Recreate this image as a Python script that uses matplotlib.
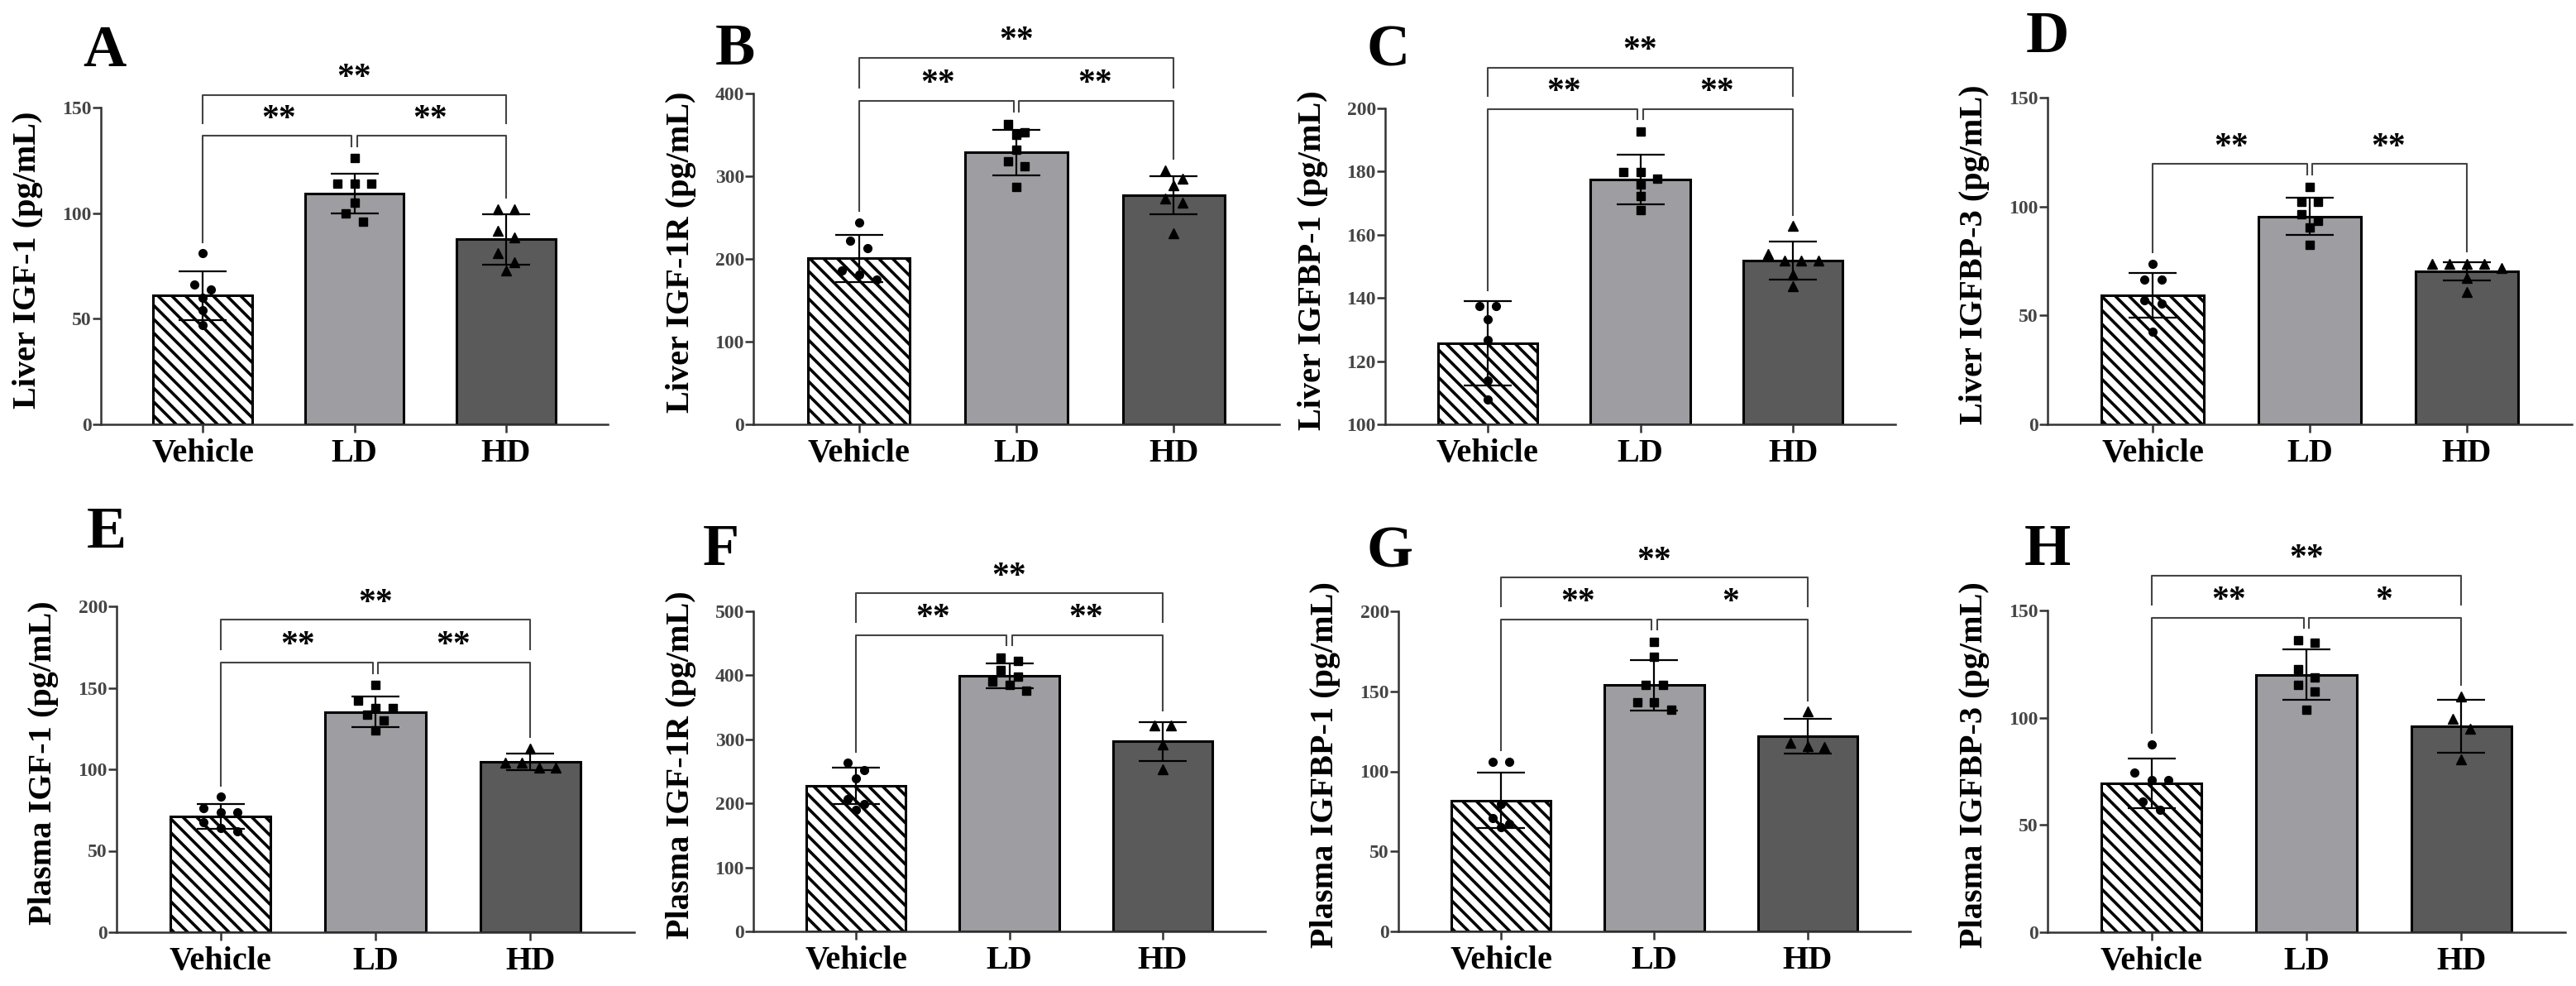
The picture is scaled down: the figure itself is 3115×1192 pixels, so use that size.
import numpy as np
import matplotlib
matplotlib.use("Agg")
import matplotlib.pyplot as plt

plt.rcParams['font.family'] = ['Liberation Serif', 'DejaVu Serif']
plt.rcParams['hatch.linewidth'] = 2.6
plt.rcParams['hatch.color'] = 'black'

groups = ['Vehicle', 'LD', 'HD']
letters = ['A', 'B', 'C', 'D', 'E', 'F', 'G', 'H']
ylabels = ['Liver IGF-1 (pg/mL)', 'Liver IGF-1R (pg/mL)', 'Liver IGFBP-1 (pg/mL)',
           'Liver IGFBP-3 (pg/mL)', 'Plasma IGF-1 (pg/mL)', 'Plasma IGF-1R (pg/mL)',
           'Plasma IGFBP-1 (pg/mL)', 'Plasma IGFBP-3 (pg/mL)']
ylims = [(0, 150), (0, 400), (100, 200), (0, 150), (0, 200), (0, 500), (0, 200), (0, 150)]
ysteps = [50, 100, 20, 50, 50, 100, 50, 50]

# mean and SD per panel (Vehicle, LD, HD)
means = [[61, 109.3, 87.6], [200.8, 328.6, 277], [125.6, 177.5, 151.8], [59.2, 95.4, 70.1],
         [71, 135.1, 104.6], [227.4, 399.2, 297], [81.8, 153.8, 122.1], [69.3, 120, 95.9]]
sds = [[11.6, 9.5, 12], [28.5, 27.3, 23], [13.4, 7.8, 6.1], [10.3, 8.5, 4.2],
       [7.7, 9.4, 5.1], [28, 19, 30.4], [17.2, 15.8, 10.9], [11.6, 11.7, 12.3]]

pts_vehicle = [[81, 66, 64, 60, 54, 47],
               [243.5, 221.8, 213, 186, 180.5, 175],
               [137.5, 137.5, 133.3, 126.8, 113.8, 107.8],
               [73.8, 66.5, 66.5, 57, 55.6, 42.5],
               [83, 76, 73.5, 73.5, 67.7, 64, 62],
               [263, 251.7, 238.6, 207, 199.6, 190],
               [106, 106, 79.8, 71, 67.2, 65],
               [87.7, 74.6, 71, 71, 60.9, 57.2]]
pts_ld = [[126, 114, 114, 114, 105, 100, 96],
          [363, 353, 350, 332, 318, 312, 287],
          [192.8, 179.8, 179.8, 177.8, 175.8, 172.3, 167.8],
          [109, 102, 102, 96.3, 93.4, 90.5, 82.5],
          [151.7, 142.2, 137.4, 137.4, 133.6, 129.8, 124],
          [428, 422, 408, 398, 390, 385, 376],
          [181, 171.4, 153.8, 153.8, 143.1, 143.1, 138.3],
          [136.2, 134.8, 122.5, 118.8, 115.2, 112.3, 103.6]]
pts_hd = [[102, 102, 91.6, 88.6, 81, 76.7, 73],
          [306.5, 297, 289, 273, 268, 231],
          [162.8, 153.8, 151.8, 151.8, 151.8, 147.3, 143.8],
          [73.8, 73.8, 73.8, 73.8, 71.6, 67.2, 60.7],
          [112.6, 104, 104, 101, 101],
          [321.3, 321.3, 292, 253],
          [137.3, 118, 116, 115],
          [110, 99.3, 95, 80.4]]

# significance: Vehicle vs LD, LD vs HD, Vehicle vs HD
sig = [('**', '**', '**'), ('**', '**', '**'), ('**', '**', '**'), ('**', '**', None),
       ('**', '**', '**'), ('**', '**', '**'), ('**', '*', '**'), ('**', '*', '**')]

# layout (pixels in the 3115x1192 image): left, top, right, bottom of plot area
W, H = 3115, 1192
axes_px = [(122, 130, 735, 513), (911, 113, 1547, 513), (1675, 131, 2292, 513), (2476, 118, 3110, 513),
           (141, 733, 767, 1127), (911, 739, 1530, 1126), (1691, 739, 2310, 1126), (2476, 738, 3102, 1127)]
letter_px = [(100, 80), (865, 78), (1652, 80), (2450, 63), (105, 662), (850, 683), (1652, 685), (2448, 683)]

bar_colors = ['white', '#9e9ea2', '#5a5a5a']
hatches = ['\\\\', None, None]
markers = ['o', 's', '^']


def spread(vals, tol):
    # simple column scatter: points close in value are put side by side
    vals = np.asarray(vals, float)
    order = np.argsort(-vals)
    offs = np.zeros(len(vals))
    clusters = []
    for i in order:
        if clusters and abs(vals[clusters[-1][0]] - vals[i]) < tol:
            clusters[-1].append(i)
        else:
            clusters.append([i])
    for c in clusters:
        n = len(c)
        for k, i in enumerate(c):
            offs[i] = (k - (n - 1) / 2) * 0.11
    return offs


fig = plt.figure(figsize=(W / 100, H / 100), dpi=100)
x = np.arange(3)
for p in range(8):
    l, t, r, b = axes_px[p]
    ax = fig.add_axes([l / W, (H - b) / H, (r - l) / W, (b - t) / H])
    y0, y1 = ylims[p]
    rng = y1 - y0
    m = np.array(means[p])
    s = np.array(sds[p])
    pts = [pts_vehicle[p], pts_ld[p], pts_hd[p]]

    for i in range(3):
        ax.bar(x[i], m[i] - y0, bottom=y0, width=0.65, color=bar_colors[i],
               edgecolor='black', linewidth=2.2, hatch=hatches[i], zorder=1)
    ax.errorbar(x, m, yerr=s, fmt='none', ecolor='black', elinewidth=1.6,
                capsize=21, capthick=1.6, zorder=3)
    for i in range(3):
        offs = spread(pts[i], 0.03 * rng)
        ax.plot(x[i] + offs, pts[i], linestyle='none', marker=markers[i],
                markersize=7 if i < 2 else 8, color='black', zorder=4, clip_on=False)

    ax.set_xlim(-0.67, 2.67)
    ax.set_ylim(y0, y1)
    ax.set_yticks(np.arange(y0, y1 + 0.1, ysteps[p]))
    ax.set_xticks(x)
    ax.set_xticklabels(groups, fontsize=29, fontweight='bold')
    for lab in ax.get_yticklabels():
        lab.set_fontweight('bold')
    ax.tick_params(axis='y', labelsize=17, labelcolor='#444444', length=7, width=1.8,
                   color='#333333', pad=1)
    ax.tick_params(axis='x', length=7, width=1.8, color='#333333', pad=5)
    for sp in ['top', 'right']:
        ax.spines[sp].set_visible(False)
    for sp in ['left', 'bottom']:
        ax.spines[sp].set_linewidth(1.8)
        ax.spines[sp].set_color('#333333')
    ax.set_ylabel(ylabels[p], fontsize=29, fontweight='bold', va='center')
    ax.yaxis.set_label_coords(-88 / (r - l), 0.52)

    # significance brackets
    tops = [max(max(pts[i]), m[i] + s[i]) for i in range(3)]
    low = max(tops) + 0.07 * rng
    up = low + 0.13 * rng
    g = 0.018
    bc = '#444444'
    lw = 1.5
    sv, sl, sa = sig[p]
    ax.plot([0, 0, 1 - g, 1 - g], [tops[0] + 0.035 * rng, low, low, low - 0.033 * rng],
            color=bc, lw=lw, clip_on=False, zorder=2)
    ax.plot([1 + g, 1 + g, 2, 2], [low - 0.033 * rng, low, low, tops[2] + 0.035 * rng],
            color=bc, lw=lw, clip_on=False, zorder=2)
    ax.annotate(sv, xy=(0.5, low), xytext=(0, 7), textcoords='offset points',
                ha='center', va='baseline', fontsize=30, fontweight='bold', annotation_clip=False)
    ax.annotate(sl, xy=(1.5, low), xytext=(0, 7), textcoords='offset points',
                ha='center', va='baseline', fontsize=30, fontweight='bold', annotation_clip=False)
    if sa:
        ax.plot([0, 0, 2, 2], [up - 0.09 * rng, up, up, up - 0.09 * rng],
                color=bc, lw=lw, clip_on=False, zorder=2)
        ax.annotate(sa, xy=(1, up), xytext=(0, 7), textcoords='offset points',
                    ha='center', va='baseline', fontsize=30, fontweight='bold', annotation_clip=False)

    lx, ly = letter_px[p]
    fig.text(lx / W, 1 - ly / H, letters[p], fontsize=52, fontweight='bold',
             ha='left', va='baseline')

fig.savefig('out.png', dpi=100, facecolor='white')
